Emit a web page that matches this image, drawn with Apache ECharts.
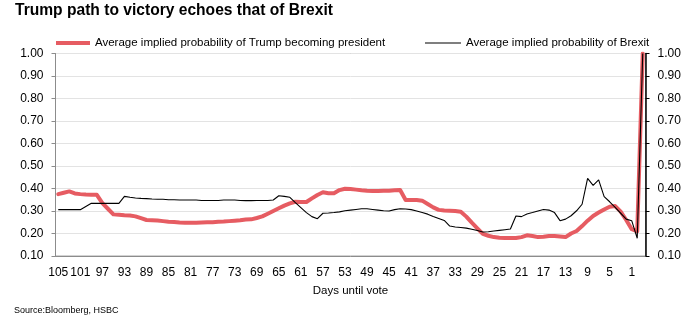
<!DOCTYPE html>
<html>
<head>
<meta charset="utf-8">
<script src="https://cdn.jsdelivr.net/npm/echarts@6/dist/echarts.min.js"></script>
<style>
  html, body { margin: 0; padding: 0; background: #fff; }
  #chart { width: 694px; height: 330px; }
</style>
</head>
<body>
<div id="chart"></div>
<script>
// Days remaining until the vote, counting down to the result day
const daysUntilVote = [
  '105','104','103','102','101','100','99','98','97','96','95','94','93','92','91','90',
  '89','88','87','86','85','84','83','82','81','80','79','78','77','76','75','74',
  '73','72','71','70','69','68','67','66','65','64','63','62','61','60','59','58',
  '57','56','55','54','53','52','51','50','49','48','47','46','45','44','43','42',
  '41','40','39','38','37','36','35','34','33','32','31','30','29','28','27','26',
  '25','24','23','22','21','20','19','18','17','16','15','14','13','12','11','10',
  '9','8','7','6','5','4','3','2','1','0','-1'
];

// Average implied probability of Trump becoming president
const trumpProbability = [
  0.375,0.381,0.387,0.378,0.375,0.373,0.372,0.372,0.335,0.310,0.285,0.283,0.281,0.280,0.276,0.268,
  0.260,0.259,0.258,0.255,0.252,0.251,0.249,0.248,0.248,0.248,0.249,0.250,0.250,0.252,0.253,0.255,
  0.257,0.259,0.262,0.263,0.269,0.276,0.288,0.300,0.312,0.324,0.334,0.341,0.340,0.340,0.356,0.371,
  0.383,0.379,0.379,0.393,0.399,0.398,0.395,0.392,0.390,0.389,0.389,0.390,0.390,0.392,0.393,0.349,
  0.349,0.349,0.346,0.331,0.316,0.305,0.302,0.301,0.300,0.297,0.275,0.248,0.223,0.198,0.190,0.184,
  0.181,0.180,0.180,0.180,0.184,0.192,0.189,0.184,0.186,0.189,0.189,0.187,0.184,0.200,0.211,0.233,
  0.257,0.278,0.293,0.307,0.319,0.322,0.297,0.260,0.219,0.210,1.000
];

// Average implied probability of Brexit
const brexitProbability = [
  0.306,0.306,0.306,0.306,0.306,0.320,0.334,0.334,0.334,0.334,0.334,0.334,0.365,0.361,0.358,0.356,
  0.355,0.353,0.352,0.352,0.350,0.350,0.349,0.349,0.349,0.349,0.347,0.347,0.347,0.347,0.349,0.349,
  0.349,0.347,0.346,0.346,0.347,0.347,0.347,0.349,0.368,0.365,0.361,0.337,0.315,0.293,0.275,0.266,
  0.290,0.291,0.293,0.296,0.301,0.304,0.307,0.310,0.310,0.307,0.304,0.301,0.300,0.306,0.310,0.309,
  0.306,0.300,0.293,0.286,0.276,0.267,0.258,0.233,0.229,0.227,0.224,0.219,0.213,0.207,0.208,0.211,
  0.214,0.217,0.220,0.278,0.275,0.287,0.293,0.300,0.307,0.304,0.293,0.257,0.264,0.279,0.301,0.330,
  0.445,0.414,0.438,0.364,0.341,0.316,0.290,0.264,0.257,0.179,1.000
];

// Probability scale shared by both vertical axes
const probMin = 0.1;
const probMax = 1.0;
const probStep = 0.1;

const seriesNames = [
  'Average implied probability of Trump becoming president',
  'Average implied probability of Brexit'
];

const TRUMP_RED = '#e65c62';
const FONT = '"Liberation Sans", Arial, Helvetica, sans-serif';

const chart = echarts.init(document.getElementById('chart'), null, { renderer: 'canvas' });

const yAxisBase = {
  type: 'value',
  min: probMin,
  max: probMax,
  interval: probStep,
  axisTick: { show: true, length: 4, lineStyle: { color: '#8c8c8c' } },
  axisLabel: {
    margin: 12,
    color: '#000',
    fontFamily: FONT,
    fontSize: 12,
    formatter: v => v.toFixed(2)
  }
};

const legendText = { fontFamily: FONT, fontSize: 11.5, color: '#000' };

chart.setOption({
  animation: false,
  backgroundColor: '#fff',
  textStyle: { fontFamily: FONT },
  title: {
    text: 'Trump path to victory echoes that of Brexit',
    left: 10,
    top: -2,
    textStyle: { fontFamily: FONT, fontSize: 15.6, fontWeight: 'bold', color: '#000' }
  },
  // one legend per series so each key can carry its own line weight
  legend: [
    {
      data: [seriesNames[0]],
      icon: 'rect',
      left: 51,
      top: 32,
      itemWidth: 34,
      itemHeight: 4,
      textStyle: legendText
    },
    {
      data: [seriesNames[1]],
      icon: 'rect',
      left: 420,
      top: 32,
      itemWidth: 36,
      itemHeight: 1,
      textStyle: legendText
    }
  ],
  grid: {
    left: 55.5,
    right: 48.5,
    top: 53.5,
    bottom: 74,
    show: true,
    borderColor: '#a6a6a6',
    borderWidth: 1
  },
  xAxis: {
    type: 'category',
    data: daysUntilVote,
    boundaryGap: true,
    name: 'Days until vote',
    nameLocation: 'middle',
    nameGap: 29,
    nameTextStyle: { fontFamily: FONT, fontSize: 11.5, color: '#000' },
    axisLine: { lineStyle: { color: '#8c8c8c' } },
    axisTick: { interval: 3, length: 4, lineStyle: { color: '#8c8c8c' } },
    axisLabel: { interval: 3, margin: 11, color: '#000', fontFamily: FONT, fontSize: 12 },
    splitLine: { show: false }
  },
  yAxis: [
    Object.assign({}, yAxisBase, {
      position: 'left',
      axisLine: { show: true, lineStyle: { color: '#8c8c8c' } },
      splitLine: { show: true, lineStyle: { color: '#e3e3e3', width: 1 } }
    }),
    Object.assign({}, yAxisBase, {
      position: 'right',
      axisLine: { show: true, lineStyle: { color: '#000', width: 1.5 } },
      axisTick: { show: true, length: 4, lineStyle: { color: '#000' } },
      splitLine: { show: false }
    })
  ],
  series: [
    {
      name: seriesNames[0],
      type: 'line',
      yAxisIndex: 0,
      data: trumpProbability,
      symbol: 'none',
      smooth: false,
      lineStyle: { color: TRUMP_RED, width: 4, join: 'round', cap: 'round' },
      itemStyle: { color: TRUMP_RED },
      z: 2
    },
    {
      name: seriesNames[1],
      type: 'line',
      yAxisIndex: 1,
      data: brexitProbability,
      symbol: 'none',
      smooth: false,
      lineStyle: { color: '#000', width: 1.1 },
      itemStyle: { color: '#000' },
      z: 3
    }
  ],
  graphic: [
    {
      type: 'text',
      left: 14,
      top: 306,
      style: { text: 'Source:Bloomberg, HSBC', fontFamily: FONT, fontSize: 9, fill: '#000' }
    }
  ]
});
</script>
</body>
</html>
